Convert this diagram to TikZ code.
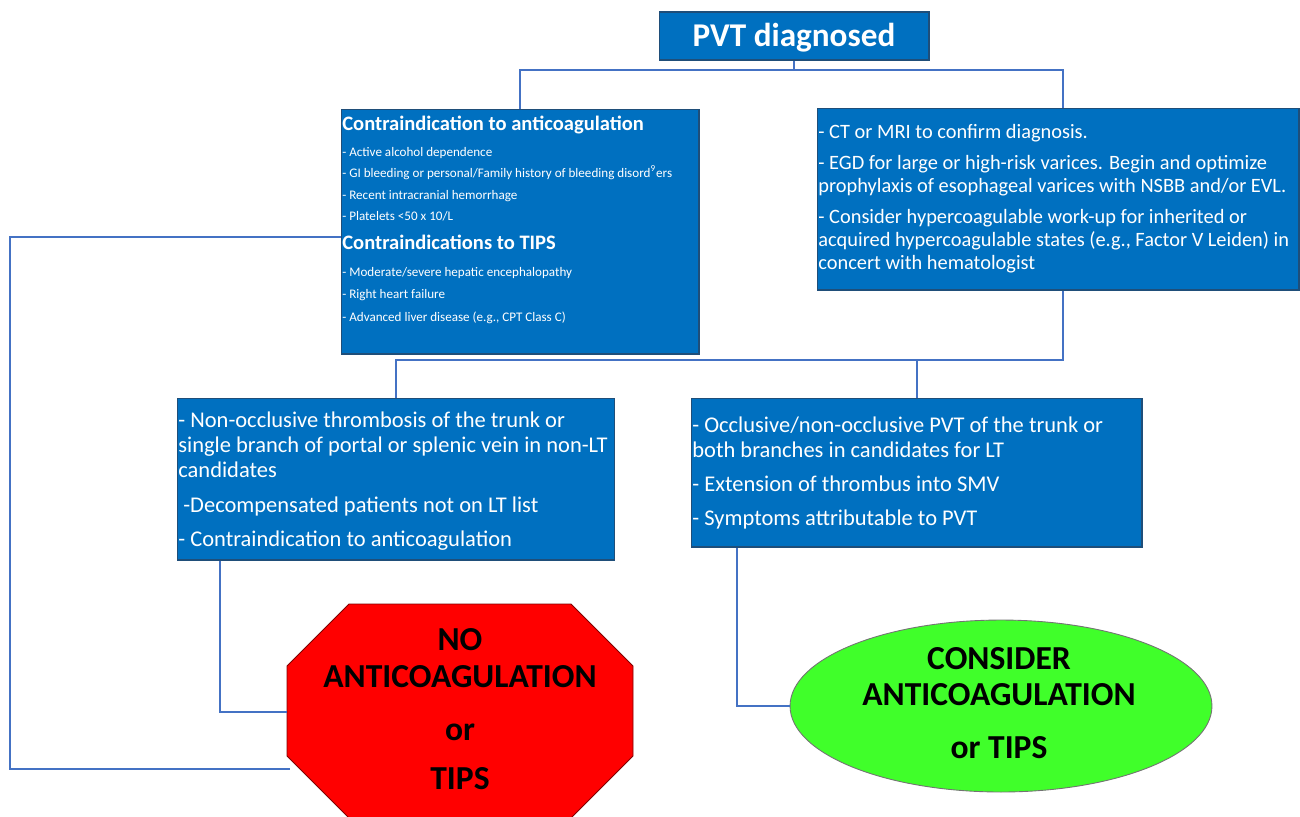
\documentclass[tikz,border=0pt]{standalone}
\usepackage{fontspec}
\setmainfont{Carlito}
\usetikzlibrary{shapes.geometric}
\definecolor{boxblue}{HTML}{0070C0}
\definecolor{boxline}{HTML}{1F4E79}
\definecolor{conn}{HTML}{4472C4}
\definecolor{stopred}{HTML}{FF0000}
\definecolor{gogreen}{HTML}{40FF2A}
\tikzset{
  bluebox/.style={rectangle, fill=boxblue, draw=boxline, line width=0.6pt, inner sep=0pt},
  conline/.style={draw=conn, line width=0.9pt},
  wtxt/.style={inner sep=0pt, anchor=base west, text=white},
  ctxt/.style={inner sep=0pt, anchor=base, text=black, font=\fontsize{19.1pt}{22pt}\selectfont\bfseries},
  small/.style={wtxt, font=\fontsize{7.45pt}{8pt}\selectfont},
  head/.style={wtxt, font=\fontsize{11.7pt}{13pt}\selectfont\bfseries},
  rtf/.style={wtxt, font=\fontsize{11.6pt}{13pt}\selectfont},
  midf/.style={wtxt, font=\fontsize{12.8pt}{14pt}\selectfont},
}
\begin{document}
\begin{tikzpicture}[x=0.02cm, y=-0.02cm]
\useasboundingbox (0,0) rectangle (1300,816);

% boxes
\node[bluebox, minimum width=5.4cm, minimum height=0.96cm] (title) at (794,36) {};
\node[inner sep=0pt, anchor=base, text=white, font=\fontsize{18.9pt}{22pt}\selectfont\bfseries] (titletext) at (794,46) {PVT diagnosed};
\node[bluebox, minimum width=7.16cm, minimum height=4.9cm] (lt) at (520,231.5) {};
\node[bluebox, minimum width=9.64cm, minimum height=3.64cm] (rt) at (1058,199) {};
\node[bluebox, minimum width=8.76cm, minimum height=3.24cm] (lm) at (396,479) {};
\node[bluebox, minimum width=9.02cm, minimum height=2.98cm] (rm) at (916.5,472.5) {};
% octagon (stop sign)
\draw[fill=stopred, draw=red!50!black, line width=0.5pt]
  (349,604) -- (571,604) -- (633,666) -- (633,756) -- (571,818) -- (349,818)
  -- (287,756) -- (287,666) -- cycle;
\coordinate (octw) at (287,711);
\coordinate (octc) at (460,711);
\node[ellipse, fill=gogreen, draw=black!55, line width=0.5pt, inner sep=0pt,
      minimum width=8.44cm, minimum height=3.44cm] (ell) at (1001,706) {};

% connectors
\coordinate (t1) at (794,70);
\coordinate (t2) at (520,70);
\coordinate (t3) at (1063,70);
\draw[conline] (title.south) -- (t1) -- (t2) -- (lt.north);
\draw[conline] (t1) -- (t3) -- (t3 |- rt.north);
\coordinate (m1) at (1063,360);
\coordinate (m2) at (396,360);
\coordinate (m3) at (917,360);
\draw[conline] (m1 |- rt.south) -- (m1) -- (m2) -- (lm.north);
\draw[conline] (m3) -- (m3 |- rm.north);
\coordinate (a1) at (220,712);
\draw[conline] (a1 |- lm.south) -- (a1) -- (octw |- a1);
\coordinate (k1) at (10,237);
\coordinate (k2) at (10,769);
\draw[conline] (lt.west |- k1) -- (k1) -- (k2) -- ([xshift=0.06cm]octw |- k2);
\coordinate (g1) at (737,706);
\draw[conline] (g1 |- rm.south) -- (g1) -- (ell.west);

% left top text
\node[head] (lt1) at (342,130.5) {Contraindication to anticoagulation};
\node[small] (lt2) at (342,156) {- Active alcohol dependence};
\node[small] (lt3) at (342,177) {- GI bleeding or personal/Family history of bleeding disord\textsuperscript{9}ers};
\node[small] (lt4) at (342,199) {- Recent intracranial hemorrhage};
\node[small] (lt5) at (342,220) {- Platelets <50 x 10/L};
\node[head] (lt6) at (342,249.5) {Contraindications to TIPS};
\node[small] (lt7) at (342,276) {- Moderate/severe hepatic encephalopathy};
\node[small] (lt8) at (342,298) {- Right heart failure};
\node[small] (lt9) at (342,321) {- Advanced liver disease (e.g., CPT Class C)};

% right top text
\node[rtf] (rt1) at (818,138.5) {- CT or MRI to confirm diagnosis.};
\node[rtf] (rt2) at (818,169.5) {- EGD for large or high-risk varices. Begin and optimize};
\node[rtf] (rt3) at (818,192.5) {prophylaxis of esophageal varices with NSBB and/or EVL.};
\node[rtf] (rt4) at (818,223.5) {- Consider hypercoagulable work-up for inherited or};
\node[rtf] (rt5) at (818,246.5) {acquired hypercoagulable states (e.g., Factor V Leiden) in};
\node[rtf] (rt6) at (818,269.5) {concert with hematologist};

% left mid text
\node[midf] (lm1) at (178,427) {- Non-occlusive thrombosis of the trunk or};
\node[midf] (lm2) at (178,452) {single branch of portal or splenic vein in non-LT};
\node[midf] (lm3) at (178,477) {candidates};
\node[midf] (lm4) at (183,512) {-Decompensated patients not on LT list};
\node[midf] (lm5) at (178,546) {- Contraindication to anticoagulation};

% right mid text
\node[midf] (rm1) at (692,432) {- Occlusive/non-occlusive PVT of the trunk or};
\node[midf] (rm2) at (692,457) {both branches in candidates for LT};
\node[midf] (rm3) at (692,491) {- Extension of thrombus into SMV};
\node[midf] (rm4) at (692,525) {- Symptoms attributable to PVT};

% octagon text
\node[ctxt] (o1) at (octc |- 0,650.5) {NO};
\node[ctxt] (o2) at (octc |- 0,687.5) {ANTICOAGULATION};
\node[ctxt] (o3) at (octc |- 0,740.5) {or};
\node[ctxt] (o4) at (octc |- 0,789.5) {TIPS};

% ellipse text
\node[ctxt] (e1) at (999,669.5) {CONSIDER};
\node[ctxt] (e2) at (999,705.5) {ANTICOAGULATION};
\node[ctxt] (e3) at (999,758.5) {or TIPS};
\end{tikzpicture}
\end{document}
